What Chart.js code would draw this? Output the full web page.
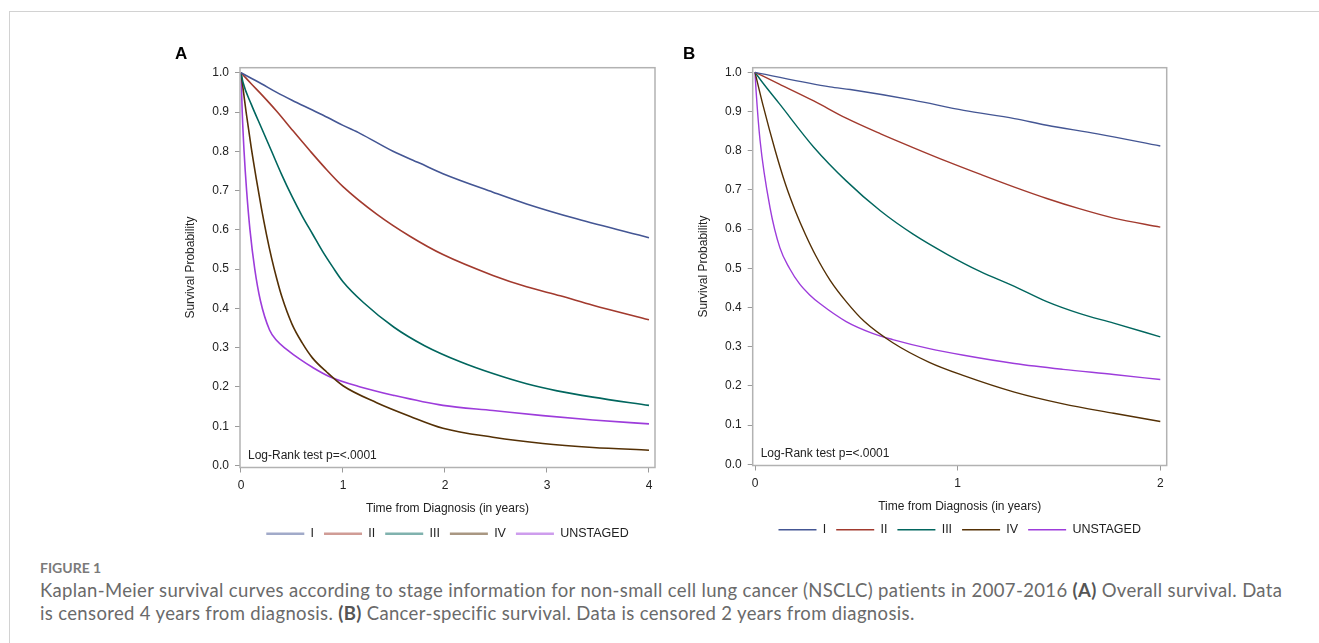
<!DOCTYPE html>
<html>
<head>
<meta charset="utf-8">
<script src="https://cdn.jsdelivr.net/npm/chart.js@4.4.0/dist/chart.umd.min.js"></script>
<style>
  body { margin: 0; background: #fff; width: 1319px; height: 643px; overflow: hidden; position: relative; }
  #frame { position: absolute; left: 9px; top: 11px; right: -2px; bottom: -2px; border-top: 1px solid #d2d2d2; border-left: 1px solid #d2d2d2; }
  .panel { position: absolute; top: 40px; }
  #panelA { left: 175px; width: 495px; height: 510px; }
  #panelB { left: 683px; width: 499px; height: 506px; }
  #caption { position: absolute; left: 40px; top: 556px; font-family: Lato, "Open Sans", sans-serif; color: #6a6a6a; font-size: 18.5px; letter-spacing: 0.35px; line-height: 23px; white-space: nowrap; }
  #caption .fig { font-size: 14px; letter-spacing: 0; font-weight: 700; color: #7a7a7a; }
  #caption b { color: #555; }
</style>
</head>
<body>
<div id="frame"></div>
<div class="panel" id="panelA"><canvas id="chartA"></canvas></div>
<div class="panel" id="panelB"><canvas id="chartB"></canvas></div>
<div id="caption">
  <div class="fig">FIGURE 1</div>
  <div>Kaplan-Meier survival curves according to stage information for non-small cell lung cancer (NSCLC) patients in 2007-2016 <b>(A)</b> Overall survival. Data<br>is censored 4 years from diagnosis. <b>(B)</b> Cancer-specific survival. Data is censored 2 years from diagnosis.</div>
</div>
<script>
const stages = ['I', 'II', 'III', 'IV', 'UNSTAGED'];
const stageColors = ['#445694', '#A23A2E', '#01665E', '#543005', '#9D3CDB'];
const yTicks = [0, 0.1, 0.2, 0.3, 0.4, 0.5, 0.6, 0.7, 0.8, 0.9, 1.0];
const xTicksA = [0, 1, 2, 3, 4];
const xTicksB = [0, 1, 2];
const noteText = 'Log-Rank test p=<.0001';

// (A) overall survival, [years, survival]
const osI = [[0, 1], [0.1, 0.986], [0.2, 0.972], [0.35, 0.95], [0.5, 0.93], [0.7, 0.905], [0.85, 0.886], [1.0, 0.866], [1.17, 0.845], [1.49, 0.8], [1.75, 0.77], [1.98, 0.743], [2.47, 0.696], [2.8, 0.666], [3.29, 0.628], [4, 0.58]];
const osII = [[0, 1], [0.1, 0.972], [0.2, 0.945], [0.35, 0.902], [0.51, 0.852], [0.68, 0.8], [0.84, 0.753], [1.0, 0.71], [1.33, 0.64], [1.66, 0.583], [1.98, 0.537], [2.47, 0.484], [2.8, 0.455], [3.13, 0.432], [3.45, 0.408], [4, 0.371]];
const osIII = [[0, 1], [0.02, 0.975], [0.1, 0.92], [0.2, 0.86], [0.3, 0.8], [0.4, 0.74], [0.5, 0.685], [0.6, 0.635], [0.7, 0.59], [0.8, 0.545], [0.9, 0.505], [1.0, 0.468], [1.2, 0.415], [1.5, 0.352], [1.8, 0.305], [2.15, 0.264], [2.47, 0.234], [2.8, 0.208], [3.1, 0.19], [3.45, 0.174], [4, 0.153]];
const osIV = [[0, 1], [0.05, 0.9], [0.1, 0.81], [0.15, 0.73], [0.2, 0.655], [0.25, 0.588], [0.3, 0.528], [0.35, 0.476], [0.4, 0.43], [0.5, 0.36], [0.6, 0.312], [0.7, 0.274], [0.84, 0.238], [1.0, 0.203], [1.33, 0.16], [1.66, 0.125], [1.98, 0.095], [2.47, 0.072], [2.96, 0.056], [3.45, 0.046], [4, 0.039]];
const osU = [[0, 1], [0.012, 0.9], [0.03, 0.8], [0.055, 0.7], [0.088, 0.6], [0.135, 0.5], [0.19, 0.42], [0.28, 0.345], [0.35, 0.318], [0.45, 0.295], [0.58, 0.27], [0.7, 0.25], [0.87, 0.226], [1.17, 0.2], [1.49, 0.179], [1.98, 0.153], [2.47, 0.14], [2.96, 0.127], [3.45, 0.116], [4, 0.106]];

// (B) cancer-specific survival
const cssI = [[0, 1], [0.37, 0.963], [0.47, 0.956], [0.78, 0.929], [1.03, 0.903], [1.28, 0.882], [1.44, 0.865], [1.69, 0.843], [2, 0.812]];
const cssII = [[0, 1], [0.12, 0.97], [0.29, 0.927], [0.45, 0.883], [0.62, 0.843], [0.78, 0.808], [0.95, 0.772], [1.11, 0.74], [1.28, 0.707], [1.44, 0.678], [1.6, 0.652], [1.77, 0.628], [2, 0.605]];
const cssIII = [[0, 1], [0.04, 0.972], [0.12, 0.92], [0.29, 0.809], [0.45, 0.723], [0.62, 0.646], [0.78, 0.587], [0.95, 0.535], [1.11, 0.492], [1.28, 0.454], [1.44, 0.415], [1.6, 0.385], [1.77, 0.36], [2, 0.325]];
const cssIV = [[0, 1], [0.04, 0.915], [0.1, 0.8], [0.15, 0.715], [0.2, 0.645], [0.25, 0.585], [0.3, 0.532], [0.37, 0.47], [0.45, 0.415], [0.54, 0.364], [0.68, 0.31], [0.86, 0.26], [1.03, 0.226], [1.28, 0.184], [1.52, 0.154], [1.77, 0.13], [2, 0.109]];
const cssU = [[0, 1], [0.005, 0.955], [0.025, 0.826], [0.074, 0.655], [0.123, 0.552], [0.17, 0.5], [0.22, 0.46], [0.27, 0.432], [0.32, 0.41], [0.45, 0.364], [0.58, 0.334], [0.68, 0.318], [0.86, 0.295], [1.03, 0.278], [1.28, 0.257], [1.52, 0.242], [1.77, 0.229], [2, 0.216]];

Chart.defaults.font.family = '"Liberation Sans", Arial, sans-serif';
Chart.defaults.font.size = 12;
Chart.defaults.color = '#222';

// grey box round the plot area plus the log-rank note
const framePlugin = {
    id: 'frame',
    afterDatasetsDraw(chart) {
        const {ctx, chartArea: a} = chart;
        ctx.save();
        ctx.strokeStyle = '#b2b2b2';
        ctx.lineWidth = 1.5;
        ctx.strokeRect(a.left, a.top, a.right - a.left, a.bottom - a.top);
        ctx.fillStyle = '#222';
        ctx.font = '12px "Liberation Sans", Arial, sans-serif';
        ctx.textBaseline = 'middle';
        ctx.fillText(noteText, a.left + 8, a.bottom - 12);
        ctx.restore();
    }
};

const fade = (hex, alpha) => {
    const n = parseInt(hex.slice(1), 16);
    return `rgba(${n >> 16}, ${(n >> 8) & 255}, ${n & 255}, ${alpha})`;
};

function makePanel(canvas, o) {
    return new Chart(canvas, {
        type: 'line',
        data: {
            datasets: o.series.map((pts, i) => ({
                label: stages[i],
                data: pts.map(([x, y]) => ({x, y})),
                borderColor: stageColors[i],
                borderWidth: o.lineWidth,
                pointRadius: 0,
                fill: false,
                cubicInterpolationMode: 'monotone'
            }))
        },
        options: {
            responsive: true,
            maintainAspectRatio: false,
            animation: false,
            layout: {padding: {left: 0, right: o.padRight, top: 0, bottom: 0}},
            plugins: {
                title: {
                    display: true, text: o.letter, align: 'start',
                    font: {size: 17, weight: 'bold'}, color: '#000',
                    padding: {top: 3.8, bottom: 3.5}
                },
                legend: {
                    position: 'bottom',
                    fullSize: false,
                    labels: {
                        boxWidth: 38, boxHeight: o.legendBox, padding: 10,
                        font: {size: 12.5}, color: '#222',
                        generateLabels: chart => chart.data.datasets.map((d, i) => ({
                            text: d.label,
                            fillStyle: fade(stageColors[i], o.legendAlpha),
                            strokeStyle: stageColors[i],
                            lineWidth: 0,
                            datasetIndex: i,
                            fontColor: '#222'
                        }))
                    }
                },
                tooltip: {enabled: false}
            },
            scales: {
                x: {
                    type: 'linear', min: o.xMin, max: o.xMax,
                    afterBuildTicks: s => { s.ticks = o.xTicks.map(v => ({value: v})); },
                    afterFit: s => { s.height = o.xHeight; },
                    grid: {drawOnChartArea: false, tickLength: 5, color: '#9a9a9a'},
                    border: {display: false},
                    ticks: {padding: 6, color: '#222', callback: v => String(v)},
                    title: {display: true, text: 'Time from Diagnosis (in years)', color: '#222', padding: {top: 0, bottom: o.xTitlePad}}
                },
                y: {
                    type: 'linear', min: o.yMin, max: o.yMax,
                    afterBuildTicks: s => { s.ticks = yTicks.map(v => ({value: v})); },
                    afterFit: s => { s.width = o.yWidth; },
                    grid: {drawOnChartArea: false, tickLength: 5, color: '#9a9a9a'},
                    border: {display: false},
                    ticks: {padding: 6, color: '#222', callback: v => v.toFixed(1)},
                    title: {display: true, text: 'Survival Probability', color: '#222', padding: {top: o.yTitlePad, bottom: 0}}
                }
            }
        },
        plugins: [framePlugin]
    });
}

makePanel(document.getElementById('chartA'), {
    letter: 'A', series: [osI, osII, osIII, osIV, osU],
    xMin: -0.0098, xMax: 4.059, yMin: -0.0051, yMax: 1.0128,
    xTicks: xTicksA, yWidth: 65, yTitlePad: 8, xHeight: 50, xTitlePad: 2,
    padRight: 15, lineWidth: 1.6, legendAlpha: 0.5, legendBox: 2.5
});

makePanel(document.getElementById('chartB'), {
    letter: 'B', series: [cssI, cssII, cssIII, cssIV, cssU],
    xMin: -0.0114, xMax: 2.0316, yMin: -0.0033, yMax: 1.0118,
    xTicks: xTicksB, yWidth: 69.7, yTitlePad: 13, xHeight: 48, xTitlePad: 0,
    padRight: 15.3, lineWidth: 1.4, legendAlpha: 1, legendBox: 1.5
});
</script>
</body>
</html>
